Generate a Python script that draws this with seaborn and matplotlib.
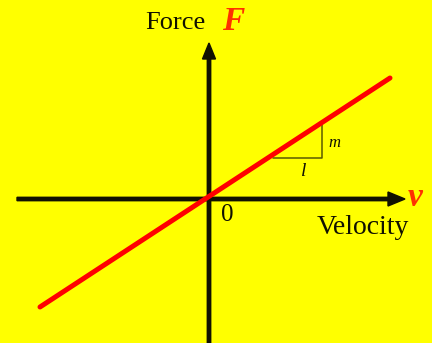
import matplotlib
matplotlib.use('Agg')
import pandas as pd
import matplotlib.pyplot as plt
import seaborn as sns

# 数据：过原点的直线 F = m * v（从图中读取端点）
velocity = [-169, 181]
force = [-108, 121]

# 斜率三角形的三个顶点
tri_v = [64, 113, 113]
tri_f = [41, 41, 74]

# 坐标轴范围（带箭头）
x_axis = [-192, 196]
y_axis = [-144, 156]

sns.set_theme(style="white")
plt.rcParams['font.family'] = ['Liberation Serif', 'DejaVu Serif']

fig = plt.figure(figsize=(4.32, 3.43), dpi=100, facecolor='#FFFF00')
ax = fig.add_axes([0, 0, 1, 1])
ax.set_facecolor('#FFFF00')
ax.set_xlim(-209, 223)
ax.set_ylim(-144, 199)
ax.axis('off')

# 坐标轴箭头
ax.arrow(x_axis[0], 0, x_axis[1] - x_axis[0], 0, width=3.4, head_width=14,
         head_length=17, length_includes_head=True, color='#111100', zorder=2)
ax.arrow(0, y_axis[0], 0, y_axis[1] - y_axis[0], width=3.4, head_width=13,
         head_length=16, length_includes_head=True, color='#111100', zorder=2)

# 红色直线
df = pd.DataFrame({'v': velocity, 'F': force})
sns.lineplot(data=df, x='v', y='F', color='#FF0000', linewidth=3.6, ax=ax,
             zorder=3)

# 斜率三角形
ax.plot(tri_v, tri_f, color='#5A5A00', linewidth=1.1, zorder=2)

# 文字
ax.text(-34, 176, 'Force', fontsize=19, ha='center', va='center', color='#111100')
ax.text(24, 177, 'F', fontsize=24, ha='center', va='center', color='#FF3000',
        fontweight='bold', fontstyle='italic')
ax.text(206, 2, 'v', fontsize=24, ha='center', va='center', color='#FF3000',
        fontweight='bold', fontstyle='italic')
ax.text(154, -28, 'Velocity', fontsize=20, ha='center', va='center', color='#111100')
ax.text(18, -16, '0', fontsize=18, ha='center', va='center', color='#111100')
ax.text(125, 56, 'm', fontsize=12, ha='center', va='center', color='#111100',
        fontstyle='italic')
ax.text(95, 27, 'l', fontsize=14, ha='center', va='center', color='#111100',
        fontstyle='italic')

fig.savefig('out.png', dpi=100, facecolor='#FFFF00')
